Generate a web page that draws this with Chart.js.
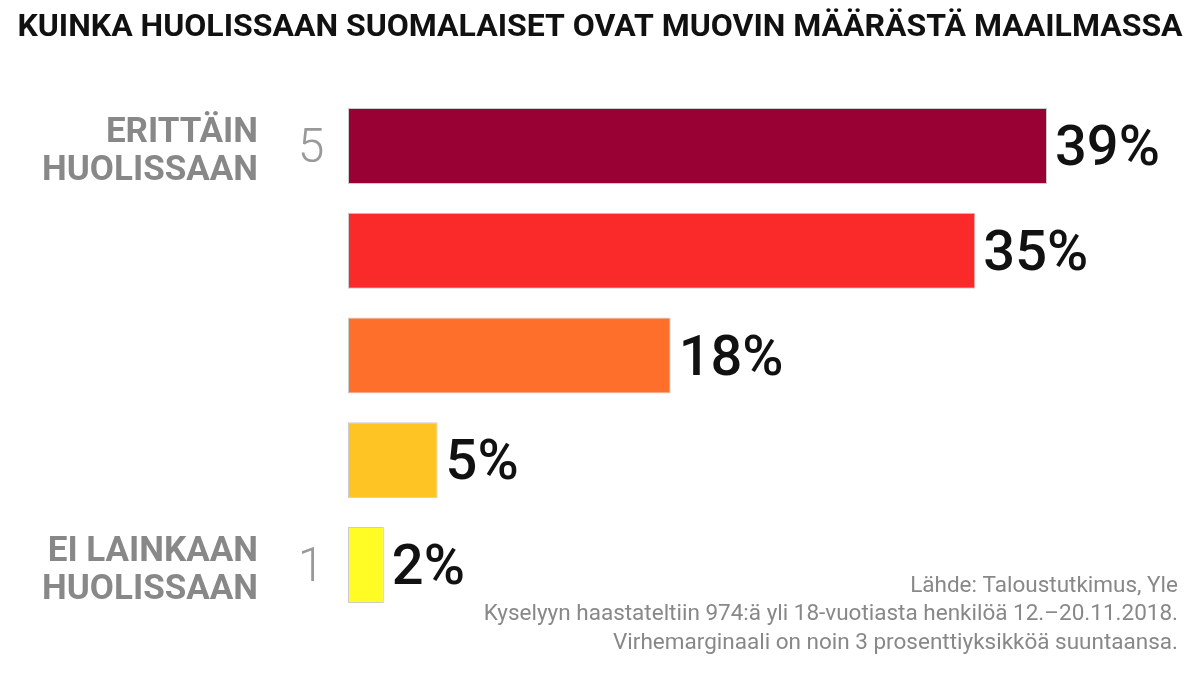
<!DOCTYPE html>
<html>
<head>
<meta charset="utf-8">
<script src="https://cdn.jsdelivr.net/npm/chart.js@4.4.1/dist/chart.umd.min.js"></script>
<style>
  html, body { margin: 0; padding: 0; background: #fff; }
  #wrap { width: 1199px; height: 673px; position: relative; }
</style>
</head>
<body>
<div id="wrap"><canvas id="chart"></canvas></div>
<script>
// data
const categories = ['5', '4', '3', '2', '1'];
const values = [39, 35, 18, 5, 2];
const barColors = ['#990033', '#fa2a2a', '#fd6f2a', '#fec424', '#fffb24'];
const scaleLabels = ['5', '', '', '', '1'];
const sideLabels = [['ERITTÄIN', 'HUOLISSAAN'], [], [], [], ['EI LAINKAAN', 'HUOLISSAAN']];
const titleText = 'KUINKA HUOLISSAAN SUOMALAISET OVAT MUOVIN MÄÄRÄSTÄ MAAILMASSA';
const footLines = [
    'Lähde: Taloustutkimus, Yle',
    'Kyselyyn haastateltiin 974:ä yli 18-vuotiasta henkilöä 12.–20.11.2018.',
    'Virhemarginaali on noin 3 prosenttiyksikköä suuntaansa.'
];

// tekstit piirretään canvasille
const textPlugin = {
    id: 'texts',
    afterDatasetsDraw(chart) {
        const { ctx, scales: { x, y } } = chart;
        ctx.save();

        // otsikko
        ctx.fillStyle = '#111';
        ctx.font = 'bold 32px Roboto';
        ctx.textAlign = 'center';
        ctx.textBaseline = 'middle';
        ctx.fillText(titleText, 600, 28);

        categories.forEach((c, i) => {
            const yc = y.getPixelForValue(i);

            // prosentit palkin perään
            const bar = chart.getDatasetMeta(0).data[i];
            ctx.fillStyle = '#111';
            ctx.font = '500 56px Roboto';
            ctx.textAlign = 'left';
            ctx.textBaseline = 'middle';
            ctx.fillText(values[i] + '%', bar.x + 8, yc + 5);

            // asteikon numero
            if (scaleLabels[i]) {
                ctx.fillStyle = '#999';
                ctx.font = '300 48px Roboto';
                ctx.textAlign = 'center';
                ctx.fillText(scaleLabels[i], 311, yc + 4);
            }

            // selitteet
            const lines = sideLabels[i];
            if (lines.length) {
                ctx.fillStyle = '#888';
                ctx.font = 'bold 35px Roboto';
                ctx.textAlign = 'right';
                const lh = 38;
                lines.forEach((t, j) => {
                    ctx.fillText(t, 258, yc + 6 + (j - (lines.length - 1) / 2) * lh);
                });
            }
        });

        // lähde
        ctx.fillStyle = '#888';
        ctx.font = '22.5px Roboto';
        ctx.textAlign = 'right';
        footLines.forEach((t, j) => ctx.fillText(t, 1178, 586 + j * 28.5));

        ctx.restore();
    }
};

new Chart(document.getElementById('chart'), {
    type: 'bar',
    data: {
        labels: categories,
        datasets: [{
            data: values,
            backgroundColor: barColors,
            borderColor: 'rgba(110,110,110,0.35)',
            borderWidth: 1,
            borderSkipped: false,
            barPercentage: 1,
            categoryPercentage: 0.7255
        }]
    },
    options: {
        indexAxis: 'y',
        responsive: true,
        maintainAspectRatio: false,
        animation: false,
        layout: { padding: { left: 348, right: 26.5, top: 93.6, bottom: 55.6 } },
        scales: {
            x: { display: false, min: 0, max: 46 },
            y: { display: false }
        },
        plugins: {
            legend: { display: false },
            tooltip: { enabled: false }
        }
    },
    plugins: [textPlugin]
});
</script>
</body>
</html>
